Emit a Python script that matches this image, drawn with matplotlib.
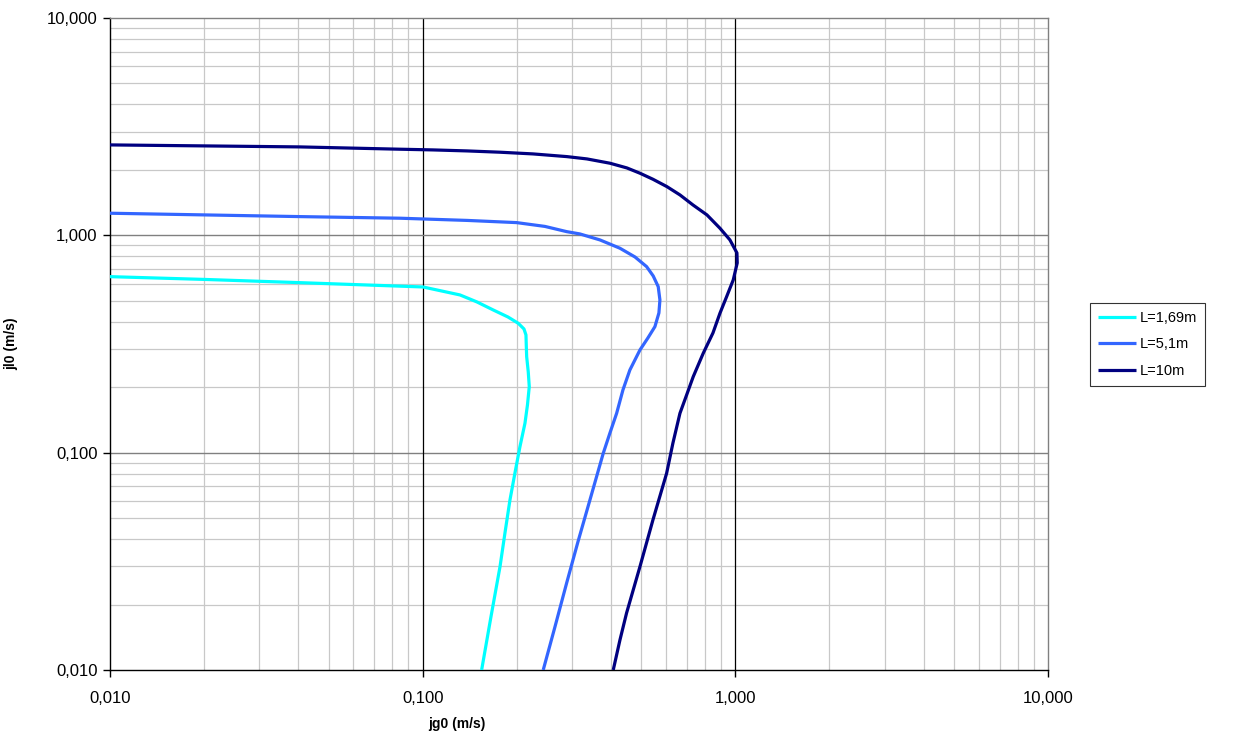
import matplotlib
matplotlib.use("Agg")
import matplotlib.pyplot as plt
from matplotlib.ticker import FixedLocator, FuncFormatter, NullFormatter

plt.rcParams['font.family'] = ['Liberation Sans', 'DejaVu Sans']

# Flooding curves jl0 vs jg0 for three column lengths
jg_169 = [0.0100, 0.02012, 0.04051, 0.10022, 0.13162, 0.14913, 0.16814, 0.18741,
          0.20217, 0.21085, 0.21398, 0.21445, 0.21509, 0.21764, 0.21925, 0.21636,
          0.21241, 0.20472, 0.19731, 0.19019, 0.18331, 0.17675, 0.16532, 0.15438]
jl_169 = [0.6455, 0.6267, 0.6057, 0.5787, 0.5318, 0.4938, 0.4535, 0.4210,
          0.3938, 0.3709, 0.3481, 0.3130, 0.2765, 0.2351, 0.2012, 0.1658,
          0.1366, 0.1066, 0.08066, 0.06057, 0.04270, 0.02988, 0.01754, 0.0100]

jg_51 = [0.0100, 0.02012, 0.04051, 0.08458, 0.13859, 0.19980, 0.24605, 0.28874,
         0.31835, 0.36898, 0.42751, 0.47749, 0.52028, 0.54620, 0.56670, 0.57384,
         0.56963, 0.55308, 0.52529, 0.49541, 0.46000, 0.43706, 0.41726, 0.39717,
         0.37807, 0.34272, 0.31369, 0.28874, 0.26486, 0.24298]
jl_51 = [1.2639, 1.2415, 1.2195, 1.1989, 1.1713, 1.1443, 1.0991, 1.0400,
         1.0149, 0.9525, 0.8722, 0.7953, 0.7178, 0.6503, 0.5806, 0.5044,
         0.4394, 0.3801, 0.3372, 0.2969, 0.2402, 0.1944, 0.1518, 0.1232,
         0.09937, 0.06057, 0.03882, 0.02514, 0.01578, 0.0100]

jg_10 = [0.0100, 0.02012, 0.04051, 0.08458, 0.10788, 0.13859, 0.17675, 0.22532,
         0.28937, 0.33524, 0.39717, 0.44994, 0.49541, 0.54499, 0.60426, 0.66509,
         0.73179, 0.81143, 0.89285, 0.96101, 1.01186, 1.0141, 0.98467, 0.93797,
         0.89285, 0.84807, 0.78946, 0.73341, 0.69865, 0.66509, 0.63161, 0.60293,
         0.54499, 0.49541, 0.44895, 0.42751, 0.40693]
jl_10 = [2.6065, 2.5790, 2.5518, 2.4903, 2.4719, 2.4458, 2.4124, 2.3694,
         2.3025, 2.2470, 2.1468, 2.0425, 1.9310, 1.8118, 1.6752, 1.5346,
         1.3800, 1.2415, 1.0782, 0.9525, 0.8298, 0.7465, 0.6233, 0.5224,
         0.4380, 0.3555, 0.2867, 0.2237, 0.1844, 0.1518, 0.1108, 0.0804,
         0.0490, 0.0299, 0.0183, 0.01374, 0.0100]

series_labels = ['L=1,69m', 'L=5,1m', 'L=10m']
series_colors = ['#00FFFF', '#3366FF', '#000080']
decades = [0.01, 0.1, 1.0, 10.0]

fig = plt.figure(figsize=(12.37, 7.37), dpi=100)
ax = fig.add_axes([110 / 1237, 67 / 737, 938 / 1237, 652 / 737])
ax.set_xscale('log')
ax.set_yscale('log')
ax.set_xlim(0.01, 10)
ax.set_ylim(0.01, 10)

minor_vals = [d * k for d in decades[:-1] for k in range(2, 10)]

# Light minor grid
for v in minor_vals:
    ax.axvline(v, color='#c8c8c8', lw=0.9, zorder=0)
    ax.axhline(v, color='#c8c8c8', lw=0.9, zorder=0)
# Major grid: horizontal grey, vertical black
for v in decades[1:-1]:
    ax.axhline(v, color='#808080', lw=1.0, zorder=0.5)
    ax.axvline(v, color='#000000', lw=0.9, zorder=0.5)

for s in ['top', 'right']:
    ax.spines[s].set_color('#808080')
    ax.spines[s].set_linewidth(1.0)
for s in ['left', 'bottom']:
    ax.spines[s].set_color('#000000')
    ax.spines[s].set_linewidth(1.0)

for xs, ys, lab, col in zip([jg_169, jg_51, jg_10], [jl_169, jl_51, jl_10],
                            series_labels, series_colors):
    ax.plot(xs, ys, color=col, lw=2.3, label=lab, zorder=3,
            solid_joinstyle='round', solid_capstyle='butt')

fmt = FuncFormatter(lambda v, p: f"{v:.3f}".replace('.', ','))
ax.xaxis.set_major_locator(FixedLocator(decades))
ax.yaxis.set_major_locator(FixedLocator(decades))
ax.xaxis.set_major_formatter(fmt)
ax.yaxis.set_major_formatter(fmt)
ax.xaxis.set_minor_locator(FixedLocator([]))
ax.yaxis.set_minor_locator(FixedLocator([]))
ax.xaxis.set_minor_formatter(NullFormatter())
ax.yaxis.set_minor_formatter(NullFormatter())
ax.tick_params(axis='both', which='major', direction='out', length=5, width=1,
               color='#000000', labelsize=12, labelcolor='#000000')
ax.tick_params(axis='x', pad=10)
ax.tick_params(axis='y', pad=4)

ax.set_xlabel('jg0 (m/s)', fontsize=10, fontweight='bold')
ax.set_ylabel('jl0 (m/s)', fontsize=10, fontweight='bold')
ax.xaxis.set_label_coords((457 - 110) / 938, -0.072)
ax.yaxis.set_label_coords(-(110 - 18) / 938, 0.5)

leg = fig.legend(loc='upper left', bbox_to_anchor=(1090 / 1237, 1 - 303 / 737),
                 fontsize=10.5, frameon=True, fancybox=False, edgecolor='#000000',
                 handlelength=2.6, handletextpad=0.25, borderpad=0.55,
                 borderaxespad=0, labelspacing=0.85, handleheight=0.7)
leg.get_frame().set_linewidth(0.8)

fig.savefig('out.png', dpi=100)
